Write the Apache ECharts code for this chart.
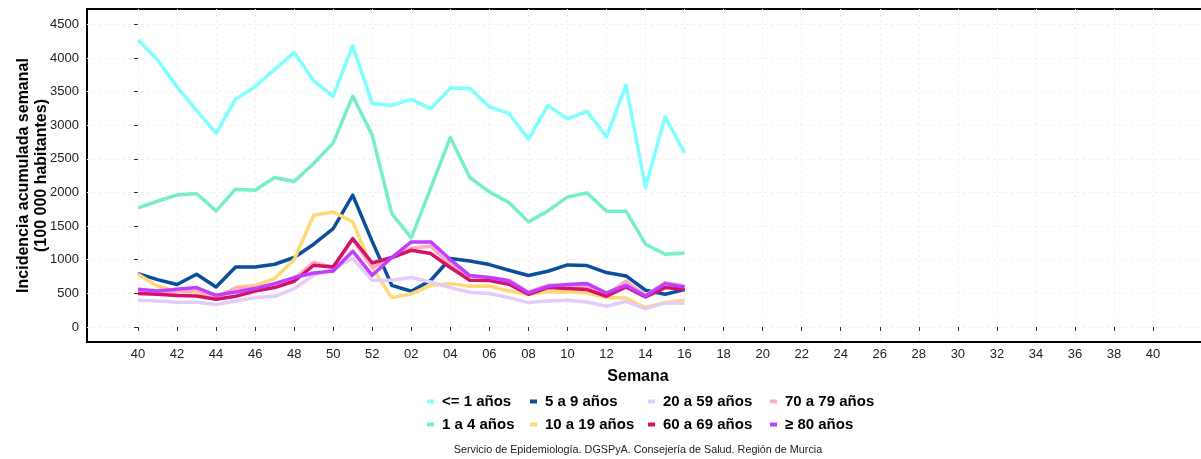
<!DOCTYPE html>
<html>
<head>
<meta charset="utf-8">
<script src="https://cdn.jsdelivr.net/npm/echarts@6/dist/echarts.min.js"></script>
<style>
  html, body { margin: 0; padding: 0; background: #fff; }
  #chart { width: 1201px; height: 459px; }
</style>
</head>
<body>
<div id="chart"></div>
<script>
// semanas de la temporada (40..52, 01..40)
const weeks = ['40','41','42','43','44','45','46','47','48','49','50','51','52',
  '01','02','03','04','05','06','07','08','09','10','11','12','13','14','15','16','17','18','19','20',
  '21','22','23','24','25','26','27','28','29','30','31','32','33','34','35','36','37','38','39','40'];
const yTicks = [0, 500, 1000, 1500, 2000, 2500, 3000, 3500, 4000, 4500];

const grupos = ['<= 1 años', '1 a 4 años', '5 a 9 años', '10 a 19 años',
  '20 a 59 años', '60 a 69 años', '70 a 79 años', '≥ 80 años'];
const colores = ['#7FFFFF', '#76EEC6', '#0B4F9C', '#FFD877',
  '#E5CBF8', '#D6116A', '#FFAEB9', '#BF3EFF'];

const menor1 = [4270, 3969, 3570, 3220, 2878, 3388, 3571, 3830, 4083, 3661, 3433, 4182, 3324, 3294, 3384,
  3244, 3552, 3547, 3274, 3175, 2793, 3294, 3095, 3205, 2828, 3592, 2074, 3125, 2589];
const de1a4 = [1771, 1870, 1964, 1985, 1726, 2049, 2034, 2223, 2164, 2432, 2738, 3433, 2853, 1687, 1324,
  2070, 2818, 2223, 2009, 1851, 1563, 1726, 1934, 1994, 1722, 1722, 1231, 1082, 1101];
const de5a9 = [794, 705, 631, 784, 595, 893, 893, 933, 1033, 1231, 1464, 1960, 1270, 620, 531,
  695, 1018, 982, 928, 844, 765, 829, 923, 913, 809, 759, 546, 487, 556];
const de10a19 = [784, 605, 531, 521, 408, 586, 620, 720, 1003, 1662, 1711, 1563, 880, 437, 492,
  620, 645, 605, 610, 536, 487, 521, 521, 506, 437, 432, 289, 363, 397];
const de20a59 = [397, 387, 368, 368, 333, 387, 437, 457, 571, 769, 868, 1018, 695, 695, 735,
  670, 586, 516, 497, 437, 363, 387, 397, 372, 308, 382, 273, 358, 358];
const de60a69 = [497, 487, 467, 462, 412, 457, 536, 586, 680, 918, 893, 1315, 952, 1033, 1141,
  1092, 884, 695, 690, 635, 487, 586, 571, 556, 457, 595, 447, 586, 556];
const de70a79 = [521, 512, 520, 540, 450, 580, 590, 640, 720, 960, 890, 1300, 880, 1030, 1170,
  1200, 930, 760, 735, 700, 520, 620, 620, 600, 480, 680, 470, 660, 610];
const mayor80 = [561, 536, 561, 586, 472, 521, 571, 645, 735, 804, 833, 1127, 769, 1033, 1265,
  1265, 1003, 765, 735, 685, 506, 605, 631, 645, 506, 620, 461, 645, 595];

const valores = [menor1, de1a4, de5a9, de10a19, de20a59, de60a69, de70a79, mayor80];
// orden de dibujo: 70-79 debajo de 60-69
const ordenDibujo = [0, 1, 2, 3, 4, 6, 5, 7];

const font = 'Liberation Sans, Arial, sans-serif';
const xTicks = [];
for (let i = 0; i < weeks.length; i += 2) xTicks.push(i);

const chart = echarts.init(document.getElementById('chart'));

const legendCols = [[0, 1], [2, 3], [4, 5], [6, 7]];
const legendLeft = [427, 530, 648, 770];

const option = {
  backgroundColor: '#fff',
  animation: false,
  textStyle: {fontFamily: font},
  title: [
    {
      text: 'Semana', left: 638, top: 369, textAlign: 'center', padding: 0,
      textStyle: {fontFamily: font, fontSize: 16, fontWeight: 'bold', color: '#000'}
    },
    {
      text: 'Servicio de Epidemiología. DGSPyA. Consejería de Salud. Región de Murcia',
      left: 638, top: 445, textAlign: 'center', padding: 0,
      textStyle: {fontFamily: font, fontSize: 10.8, fontWeight: 'normal', color: '#222'}
    }
  ],
  legend: legendCols.map((col, k) => ({
    orient: 'vertical',
    left: legendLeft[k],
    top: 393,
    itemWidth: 7,
    itemHeight: 4,
    itemGap: 6,
    icon: 'rect',
    padding: 0,
    data: col.map(j => grupos[j]),
    textStyle: {
      fontFamily: font, fontSize: 15, fontWeight: 'bold', color: '#000',
      lineHeight: 17, padding: [0, 0, 0, 3]
    }
  })),
  grid: {
    left: 87, top: 9, width: 1134, height: 333,
    containLabel: false, outerBoundsMode: 'none',
    show: true, borderColor: '#000', borderWidth: 2, backgroundColor: 'transparent'
  },
  xAxis: {
    type: 'value',
    min: -2.613,
    max: 55.48,
    axisLine: {show: false},
    axisTick: {show: true, length: 4, customValues: xTicks, lineStyle: {color: '#333', width: 1}},
    axisLabel: {
      customValues: xTicks, margin: 6, fontSize: 13, color: '#222', fontFamily: font,
      formatter: v => weeks[Math.round(v)]
    },
    splitLine: {show: true, lineStyle: {color: '#ececec', type: [2, 4], width: 1}}
  },
  yAxis: {
    type: 'value',
    min: -223,
    max: 4728,
    name: 'Incidencia acumulada semanal\n(100 000 habitantes)',
    nameLocation: 'middle',
    nameRotate: 90,
    nameGap: 36,
    nameMoveOverlap: false,
    nameTextStyle: {fontFamily: font, fontSize: 16, fontWeight: 'bold', color: '#000', lineHeight: 18},
    axisLine: {show: false},
    axisTick: {show: true, length: 4, customValues: yTicks, lineStyle: {color: '#333', width: 1}},
    axisLabel: {
      customValues: yTicks, margin: 8, fontSize: 13, color: '#222', fontFamily: font,
      formatter: v => String(v)
    },
    splitLine: {show: true, lineStyle: {color: '#ececec', type: [2, 4], width: 1}}
  },
  series: ordenDibujo.map(j => ({
    name: grupos[j],
    type: 'line',
    data: valores[j].map((v, i) => [i, v]),
    symbol: 'none',
    color: colores[j],
    lineStyle: {width: 3.5, color: colores[j], join: 'round'},
    itemStyle: {color: colores[j]}
  }))
};

chart.setOption(option);
</script>
</body>
</html>
